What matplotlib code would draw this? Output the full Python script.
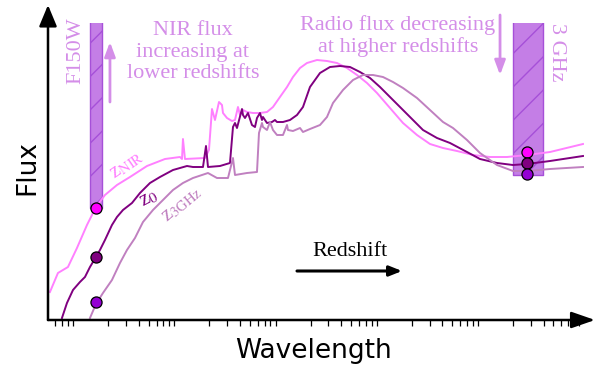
import numpy as np
import matplotlib
matplotlib.use("Agg")
import matplotlib.pyplot as plt
from matplotlib.ticker import LogLocator, NullFormatter

plt.rcParams['mathtext.fontset'] = 'stix'
plt.rcParams['hatch.linewidth'] = 1.0

# wavelength (micron, schematic) and flux (arbitrary units)
lam_nir = [0.531, 0.637, 0.800, 0.982, 1.233, 1.513, 1.857, 2.44, 3.281, 4.83, 7.27,
           10.23, 10.71, 10.95, 11.46, 18.07, 19.79, 21.19, 22.69, 24.85, 26.6, 27.22,
           29.82, 33.4, 35.77, 38.28, 40.07, 42.9, 46.98, 53.86, 63.16, 74.07, 84.9,
           99.5, 116.8, 133.8, 157.0, 184.0, 231.0, 290.0, 364.1, 457.2, 574.1, 720.7,
           904.9, 1216, 1635, 2248, 3022, 4062, 5585, 8038, 11834, 17420, 27460, 46340,
           98200]
flux_nir = [28, 47, 53, 72, 95, 113, 125, 135, 143, 154, 161,
            163, 161, 181, 161, 162, 170, 211, 200, 218, 215, 207,
            202, 199, 200, 213, 205, 210, 208, 207, 207, 208, 213,
            223, 233, 243, 252, 257, 260, 259, 257, 252, 245, 237,
            227, 212, 197, 185, 176, 172, 169, 165, 163, 163, 165, 168,
            176]

lam_z0 = [0.698, 0.782, 0.897, 1.051, 1.178, 1.32, 1.513, 1.657, 1.857, 2.177, 2.44,
          2.797, 3.433, 4.118, 5.17, 6.491, 8.724, 12.0, 13.75, 17.27, 18.49, 19.35,
          25.42, 31.91, 34.17, 35.77, 37.43, 41.94, 42.9, 44.9, 48.07, 52.65, 56.37,
          59.0, 63.16, 66.1, 67.61, 74.07, 82.99, 88.84, 92.98, 106.6, 125.0, 146.6,
          168.0, 197.0, 247.4, 310.5, 389.8, 489.5, 614.4, 771.6, 968.7, 1216, 1527,
          1917, 2577, 3543, 4765, 7013, 9425, 13880, 19970, 27460, 46340, 98200]
flux_z0 = [2, 17, 30, 38, 43, 53, 63, 70, 80, 95, 103,
           110, 117, 127, 137, 143, 150, 154, 153, 153, 174, 153,
           154, 157, 193, 197, 192, 211, 205, 202, 207, 195, 193,
           202, 207, 200, 203, 197, 198, 200, 198, 198, 200, 205,
           213, 233, 247, 253, 254, 253, 248, 242, 233, 223, 213,
           203, 190, 182, 177, 168, 161, 157, 155, 156, 159, 164]

lam_3ghz = [1.32, 1.513, 1.774, 2.177, 2.612, 3.063, 3.675, 4.41, 5.535, 6.949, 8.724,
            10.95, 13.75, 16.88, 19.35, 23.74, 30.5, 34.17, 35.77, 46.98, 59.0, 61.74,
            66.1, 67.61, 74.07, 79.3, 84.9, 92.98, 106.6, 116.8, 119.4, 133.8, 157.0,
            168.0, 197.0, 247.4, 290.0, 332.5, 417.5, 524.1, 658.0, 826.1, 1037, 1302,
            1635, 2248, 3022, 4062, 5099, 7013, 9425, 13880, 19970, 27460, 46340, 98200]
flux_3ghz = [2, 16, 27, 40, 57, 70, 82, 98, 110, 120, 130,
             137, 142, 145, 147, 142, 142, 162, 145, 147, 148, 187,
             197, 193, 190, 198, 190, 185, 185, 195, 190, 189, 192,
             188, 191, 195, 203, 217, 230, 240, 245, 245, 243, 238,
             232, 222, 210, 198, 192, 180, 167, 155, 149, 149, 151, 153]

# filter bands and the fluxes marked inside them
band_f150w = [1.32, 1.73]
band_3ghz = [2.0e4, 3.95e4]
lam_f150w = 1.51
lam_3ghz_pt = 2.75e4
pts_f150w = [112, 63, 18]
pts_3ghz = [168, 157, 146]

c_nir, c_z0, c_3ghz = '#ff80ff', '#800080', '#c080c0'
pt_colors = ['#ff00ff', '#800080', '#9400d3']
txt_c = '#d48ee8'
serif = 'Liberation Serif'

fig = plt.figure(figsize=(6.04, 3.70), dpi=100)
ax = fig.add_axes([48/604, 1-320/370, 535.8/604, 297/370])
ax.set_xscale('log')
ax.set_xlim(0.508, 1.0e5)
ax.set_ylim(0, 297)
for s in ax.spines.values():
    s.set_visible(False)
ax.set_yticks([])
ax.xaxis.set_minor_locator(LogLocator(base=10, subs=np.arange(2, 10), numticks=30))
ax.xaxis.set_major_formatter(NullFormatter())
ax.xaxis.set_minor_formatter(NullFormatter())
ax.tick_params(axis='x', which='major', length=0)
ax.tick_params(axis='x', which='minor', length=4.5, width=0.9, direction='out')

# bands
for band, top, bottom in [(band_f150w, 310, 112), (band_3ghz, 310, 145)]:
    ax.fill_between(band, bottom, top, facecolor='#c47ee6', edgecolor='#a650d8',
                    hatch='/', lw=1.0, zorder=1)

ax.plot(lam_nir, flux_nir, color=c_nir, lw=1.4, zorder=3)
ax.plot(lam_z0, flux_z0, color=c_z0, lw=1.4, zorder=3)
ax.plot(lam_3ghz, flux_3ghz, color=c_3ghz, lw=1.4, zorder=3)

for i in range(3):
    ax.plot(lam_f150w, pts_f150w[i], 'o', ms=8, mfc=pt_colors[i], mec='k', mew=0.9, zorder=5)
    ax.plot(lam_3ghz_pt, pts_3ghz[i], 'o', ms=8, mfc=pt_colors[i], mec='k', mew=0.9, zorder=5)

# axis arrows
ax.annotate('', xy=(1.0209, 0), xytext=(0, 0), xycoords='axes fraction',
            arrowprops=dict(arrowstyle='-|>,head_length=1.44,head_width=0.5', lw=1.8,
                            color='k', shrinkA=0, shrinkB=0), annotation_clip=False, zorder=6)
ax.annotate('', xy=(0, 1.0606), xytext=(0, 0), xycoords='axes fraction',
            arrowprops=dict(arrowstyle='-|>,head_length=1.3,head_width=0.54', lw=1.8,
                            color='k', shrinkA=0, shrinkB=0), annotation_clip=False, zorder=6)

fig.text(27/604, 1-167/370, 'Flux', rotation=90, fontsize=19, ha='center', va='center',
         family='DejaVu Sans')
fig.text(314/604, 1-351/370, 'Wavelength', fontsize=19, ha='center', va='center',
         family='DejaVu Sans')

# annotations
ax.text(0.96, 269, 'F150W', rotation=90, color=txt_c, fontsize=16, family=serif,
        ha='center', va='center')
ax.text(54300, 268, '3 GHz', rotation=-90, color=txt_c, fontsize=16, family=serif,
        ha='center', va='center')
ax.text(13.75, 268, 'NIR flux\nincreasing at\nlower redshifts', color=txt_c, fontsize=16,
        family=serif, ha='center', va='center', linespacing=1.2)
ax.text(1459, 284, 'Radio flux decreasing\nat higher redshifts', color=txt_c, fontsize=16,
        family=serif, ha='center', va='center', linespacing=1.2)
ax.annotate('', xy=(2.08, 278), xytext=(2.08, 218),
            arrowprops=dict(arrowstyle='-|>,head_length=0.86,head_width=0.32', lw=2.0,
                            color=txt_c, shrinkA=0, shrinkB=0))
ax.annotate('', xy=(14870, 245), xytext=(14870, 305),
            arrowprops=dict(arrowstyle='-|>,head_length=0.86,head_width=0.32', lw=2.0,
                            color=txt_c, shrinkA=0, shrinkB=0))

ax.text(489, 68, 'Redshift', fontsize=16, family=serif, ha='center', va='center')
ax.annotate('', xy=(1600, 49), xytext=(146.6, 49),
            arrowprops=dict(arrowstyle='-|>,head_length=0.75,head_width=0.3', lw=2.2,
                            color='k', shrinkA=0, shrinkB=0))

# curve labels (z as a plain serif letter with a lowered, smaller subscript)
ax.text(3.05, 155, r'z$_{\mathrm{NIR}}$', color=c_nir, fontsize=15, family=serif,
        rotation=35, rotation_mode='anchor', ha='center', va='center')
ax.text(5.1, 121, r'z$_{0}$', color=c_z0, fontsize=15, family=serif,
        rotation=28, rotation_mode='anchor', ha='center', va='center')
ax.text(10.6, 116, r'z$_{\mathrm{3GHz}}$', color=c_3ghz, fontsize=15, family=serif,
        rotation=40, rotation_mode='anchor', ha='center', va='center')

fig.savefig('out.png', dpi=100)
